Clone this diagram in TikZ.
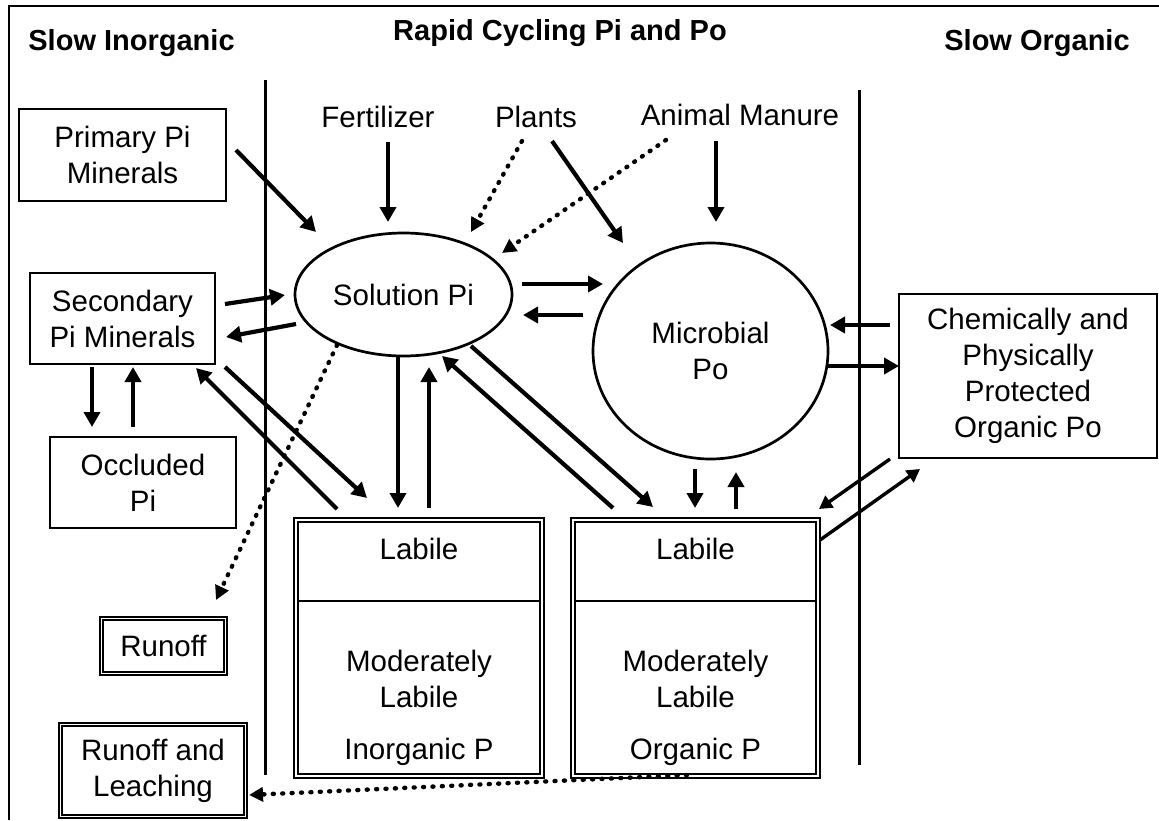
\documentclass[tikz,border=0pt]{standalone}
\usepackage{fontspec}
\setmainfont{Liberation Sans}
\usetikzlibrary{arrows.meta,shapes.geometric,calc}
\begin{document}
\begin{tikzpicture}[x=1pt,y=-1pt,
  every node/.style={font=\fontsize{29.5}{36}\selectfont, inner sep=0pt, align=center},
  head/.style={font=\fontsize{29}{36}\selectfont\bfseries},
  box/.style={draw, rectangle, line width=2.8pt},
  dbox/.style={draw, rectangle, line width=1.9pt, double, double distance=1.7pt},
  oval/.style={draw, ellipse, line width=2.7pt},
  flow/.style={line width=4.2pt, -{Triangle[length=15pt,width=16pt]}},
  thinflow/.style={line width=3.4pt, -{Triangle[length=13pt,width=14pt]}},
  dotflow/.style={line width=4.4pt, line cap=round, dash pattern=on 1pt off 8.4pt, -{Triangle[length=14pt,width=14pt]}},
  divider/.style={line width=1.4pt},
  frameline/.style={line width=2.8pt},
  zone/.style={line width=3.4pt}
]
\useasboundingbox (0,0) rectangle (1159,820);
% frame
\draw[frameline] (9,820) -- (9,6) -- (1159,6);
% zone separators
\draw[zone] (265.5,80) -- (265.5,775);
\draw[zone] (859.5,90) -- (859.5,765);

% headings
\node[head] (hin) at (131.5,43) {Slow Inorganic};
\node[head] (hrap) at (560,33) {Rapid Cycling Pi and Po};
\node[head] (horg) at (1037,43) {Slow Organic};

% sources
\node (fert) at (378,117) {Fertilizer};
\node (plants) at (536,117) {Plants};
\node (manure) at (740,115) {Animal Manure};

% pools
\node[box, minimum width=207pt, minimum height=92pt] (prim) at (122.5,155) {Primary Pi\\Minerals};
\node[box, minimum width=185pt, minimum height=91pt] (sec) at (122.5,318.5) {Secondary\\Pi Minerals};
\node[box, minimum width=186pt, minimum height=91pt] (occ) at (143,482.5) {Occluded\\Pi};
\node[dbox, minimum width=124pt, minimum height=55pt] (run) at (163.5,646) {Runoff};
\node[dbox, minimum width=185pt, minimum height=92pt] (runl) at (153,770.5) {Runoff and\\Leaching};
\node[oval, minimum width=217pt, minimum height=123pt] (sol) at (403.5,294.5) {Solution Pi};
\node[oval, minimum width=235pt, minimum height=216pt] (mic) at (710.5,351) {Microbial\\Po};
\node[box, minimum width=258pt, minimum height=164pt] (chem) at (1028,376) {Chemically and\\Physically\\Protected\\Organic Po};
\node[dbox, minimum width=246pt, minimum height=256pt] (labi) at (419,648) {};
\node[dbox, minimum width=245pt, minimum height=256pt] (labo) at (695.5,648) {};

\coordinate (divy) at (0,601);
\draw[divider] ([xshift=2.5pt]labi.west |- divy) -- ([xshift=-2.5pt]labi.east |- divy);
\draw[divider] ([xshift=2.5pt]labo.west |- divy) -- ([xshift=-2.5pt]labo.east |- divy);

\node (li1) at (419,549) {Labile};
\node (li2) at (419,679) {Moderately\\Labile};
\node (li3) at (419,752) {Inorganic P};
\node (lo1) at (695.5,549) {Labile};
\node (lo2) at (695.5,679) {Moderately\\Labile};
\node (lo3) at (695.5,752) {Organic P};

% inputs
\draw[flow] ($(prim.center)+(113.5,-5)$) -- ($(sol.center)+(-87.5,-62.5)$);
\draw[flow] ($(fert.center)+(10,25)$) -- ($(sol.center)+(-15.5,-72.5)$);
\draw[dotflow] ($(plants.center)+(-14,24)$) -- ($(sol.center)+(67.5,-62.5)$);
\draw[flow] ($(plants.center)+(16,24)$) -- ($(mic.center)+(-87.5,-108)$);
\draw[dotflow] ($(manure.center)+(-74,25)$) -- ($(sol.center)+(98.5,-41.5)$);
\draw[flow] ($(manure.center)+(-24,26)$) -- ($(mic.center)+(5.5,-129)$);

% solution <-> secondary
\draw[flow] ($(sec.center)+(102.5,-14.5)$) -- ($(sol.center)+(-118.5,0.5)$);
\draw[flow] ($(sol.center)+(-107.5,29.5)$) -- ($(sec.center)+(103.5,18.5)$);
% secondary <-> occluded
\draw[flow] ($(sec.center)+(-30.5,48.5)$) -- ($(occ.center)+(-51,-55.5)$);
\draw[flow] ($(occ.center)+(-10,-55.5)$) -- ($(sec.center)+(10.5,48.5)$);
% secondary <-> labile inorganic
\draw[flow] ($(sec.center)+(102.5,48.5)$) -- ($(labi.center)+(-52,-150)$);
\draw[flow] ($(labi.center)+(-82,-139)$) -- ($(sec.center)+(73.5,49.5)$);
% solution <-> labile inorganic
\draw[flow] ($(sol.center)+(-5.5,61.5)$) -- ($(labi.center)+(-21,-140)$);
\draw[flow] ($(labi.center)+(10,-140)$) -- ($(sol.center)+(25.5,72.5)$);
% solution <-> labile organic
\draw[flow] ($(labo.center)+(-82.5,-140)$) -- ($(sol.center)+(38.5,61.5)$);
\draw[flow] ($(sol.center)+(67.5,51.5)$) -- ($(labo.center)+(-42.5,-141)$);
% solution <-> microbial
\draw[flow] ($(sol.center)+(118.5,-10.5)$) -- ($(mic.center)+(-107.5,-67)$);
\draw[flow] ($(mic.center)+(-127.5,-36)$) -- ($(sol.center)+(119.5,20.5)$);
% microbial <-> labile organic
\draw[flow] ($(mic.center)+(-15.5,118)$) -- ($(labo.center)+(-0.5,-140)$);
\draw[flow] ($(labo.center)+(40.5,-139)$) -- ($(mic.center)+(25.5,121)$);
% chemically <-> microbial
\draw[flow] ($(chem.center)+(-138,-51)$) -- ($(mic.center)+(119.5,-26)$);
\draw[flow] ($(mic.center)+(117.5,15)$) -- ($(chem.center)+(-129,-10)$);
% chemically <-> labile organic
\draw[thinflow] ($(chem.center)+(-138,83)$) -- ($(labo.center)+(123.5,-139)$);
\draw[thinflow] ($(labo.center)+(124.5,-108)$) -- ($(chem.center)+(-108,93)$);

% losses
\draw[dotflow] ($(sol.center)+(-66.5,50.5)$) -- ($(run.center)+(52.5,-46)$);
\draw[dotflow] ($(labo.center)+(-8.5,127)$) -- ($(runl.center)+(96,24.5)$);
\end{tikzpicture}
\end{document}
